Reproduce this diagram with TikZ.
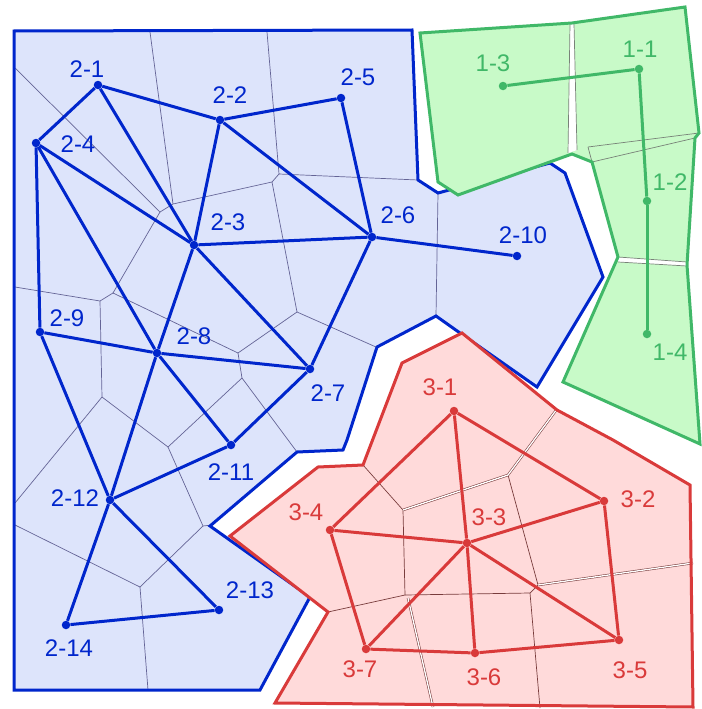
\documentclass[tikz,border=0pt]{standalone}
\usepackage{fontspec}
\setmainfont{Liberation Sans}
\definecolor{bstroke}{RGB}{0,38,204}
\definecolor{bfill}{RGB}{221,228,251}
\definecolor{bthin}{RGB}{100,100,150}
\definecolor{gstroke}{RGB}{64,184,104}
\definecolor{gfill}{RGB}{200,250,200}
\definecolor{gthin}{RGB}{120,130,120}
\definecolor{rstroke}{RGB}{217,58,58}
\definecolor{rfill}{RGB}{255,218,218}
\definecolor{rthin}{RGB}{120,60,60}
\tikzset{
  outl/.style={line width=3pt, line join=miter},
  edgel/.style={line width=3pt},
  thinl/.style={line width=0.7pt},
  dotnode/.style={circle, fill, inner sep=0pt, minimum size=8.5pt},
  lbl/.style={font=\fontsize{24}{24}\selectfont, inner sep=0pt},
  bdot/.style={dotnode, fill=bstroke},
  gdot/.style={dotnode, fill=gstroke},
  rdot/.style={dotnode, fill=rstroke},
  blbl/.style={lbl, text=bstroke},
  glbl/.style={lbl, text=gstroke},
  rlbl/.style={lbl, text=rstroke},
}
\begin{document}
\begin{tikzpicture}[x=1pt, y=-1pt]
\useasboundingbox[fill=white] (0,0) rectangle (701,709);

% ---------- blue cluster ----------
\fill[bfill] (14,31) -- (412,30) -- (418,180) -- (438,193) -- (550,163) -- (565,173) -- (603,277) -- (537,387) -- (460,333) -- (436,316) -- (377,347) -- (347,440) -- (343,450) -- (297,452) -- (210,526) -- (310,597) -- (260,690) -- (14,690) -- cycle;
\begin{scope}[thinl, bthin]
\draw (15,68) -- (160,212);
\draw (150,32) -- (173,204);
\draw (160,212) -- (173,204) -- (272,182);
\draw (267,32) -- (279,174) -- (418,180);
\draw (272,182) -- (279,174);
\draw (272,182) -- (297,312);
\draw (160,212) -- (113,293);
\draw (15,287) -- (100,301) -- (113,293) -- (238,353);
\draw (100,301) -- (102,397) -- (15,503);
\draw (102,397) -- (168,447) -- (242,378);
\draw (168,447) -- (203,526) -- (212,525);
\draw (203,526) -- (140,587);
\draw (15,525) -- (140,587) -- (148,690);
\draw (297,312) -- (376,347);
\draw (297,312) -- (238,353) -- (242,378) -- (297,452);
\draw (438,193) -- (436,316);
\end{scope}
\draw[outl, bstroke] (14,31) -- (412,30) -- (418,180) -- (438,193) -- (550,163) -- (565,173) -- (603,277) -- (537,387) -- (460,333) -- (436,316) -- (377,347) -- (347,440) -- (343,450) -- (297,452) -- (210,526) -- (310,597) -- (260,690) -- (14,690) -- cycle;

% ---------- green cluster ----------
\fill[gfill] (420,33) -- (572,23) -- (685,7) -- (699,133) -- (695,138) -- (687,265) -- (700,444) -- (563,382) -- (618,257) -- (592,162) -- (572,154) -- (458,195) -- (438,182) -- cycle;
\fill[white] (570,24) -- (574,24) -- (577,150) -- (568,153) -- cycle;
\fill[white] (618,257) -- (687,262) -- (687,266) -- (618,262) -- cycle;
\begin{scope}[thinl, gthin]
\draw (570,24) -- (568,153);
\draw (574,24) -- (577,150);
\draw (588,147) -- (699,133);
\draw (592,162) -- (695,138);
\draw (588,147) -- (592,162);
\draw (618,257) -- (687,262);
\draw (618,262) -- (687,266);
\end{scope}
\draw[outl, gstroke] (420,33) -- (572,23) -- (685,7) -- (699,133) -- (695,138) -- (687,265) -- (700,444) -- (563,382) -- (618,257) -- (592,162) -- (572,154) -- (458,195) -- (438,182) -- cycle;

% ---------- red cluster ----------
\fill[rfill] (230,536) -- (318,467) -- (363,465) -- (402,363) -- (462,333) -- (557,410) -- (613,440) -- (690,485) -- (693,707) -- (275,703) -- (328,612) -- cycle;
\begin{scope}[thinl, rthin]
\draw (363,465) -- (403,510) -- (405,595) -- (328,612);
\draw (405,595) -- (530,593) -- (538,585) -- (508,475);
\draw (530,593) -- (540,708);
\end{scope}
\begin{scope}[line width=2.4pt, rthin]
\draw (403,510) -- (508,475) -- (557,409);
\draw (538,585) -- (693,563);
\draw (408,598) -- (433,707);
\end{scope}
\begin{scope}[line width=1.3pt, white]
\draw (403,510) -- (508,475) -- (557,409);
\draw (538,585) -- (693,563);
\draw (408,598) -- (433,707);
\end{scope}
\draw[outl, rstroke] (230,536) -- (318,467) -- (363,465) -- (402,363) -- (462,333) -- (557,410) -- (613,440) -- (690,485) -- (693,707) -- (275,703) -- (328,612) -- cycle;

% ---------- blue graph ----------
\node[bdot] (b1) at (98,85) {};
\node[bdot] (b2) at (220,120) {};
\node[bdot] (b3) at (194,245) {};
\node[bdot] (b4) at (36,143) {};
\node[bdot] (b5) at (341,98) {};
\node[bdot] (b6) at (372,237) {};
\node[bdot] (b7) at (310,369) {};
\node[bdot] (b8) at (157,353) {};
\node[bdot] (b9) at (40,332) {};
\node[bdot] (b10) at (517,256) {};
\node[bdot] (b11) at (231,445) {};
\node[bdot] (b12) at (110,500) {};
\node[bdot] (b13) at (219,610) {};
\node[bdot] (b14) at (66,625) {};
\begin{scope}[edgel, bstroke]
\draw (b1) -- (b2);
\draw (b1) -- (b4);
\draw (b1) -- (b3);
\draw (b2) -- (b5);
\draw (b2) -- (b3);
\draw (b2) -- (b6);
\draw (b5) -- (b6);
\draw (b4) -- (b3);
\draw (b4) -- (b9);
\draw (b4) -- (b8);
\draw (b3) -- (b6);
\draw (b3) -- (b8);
\draw (b3) -- (b7);
\draw (b6) -- (b7);
\draw (b6) -- (b10);
\draw (b9) -- (b8);
\draw (b8) -- (b7);
\draw (b9) -- (b12);
\draw (b8) -- (b11);
\draw (b8) -- (b12);
\draw (b7) -- (b11);
\draw (b11) -- (b12);
\draw (b12) -- (b13);
\draw (b12) -- (b14);
\draw (b13) -- (b14);
\end{scope}

% ---------- green graph ----------
\node[gdot] (g1) at (639,69) {};
\node[gdot] (g2) at (647,201) {};
\node[gdot] (g3) at (503,86) {};
\node[gdot] (g4) at (647,334) {};
\begin{scope}[edgel, gstroke]
\draw (g3) -- (g1);
\draw (g1) -- (g2);
\draw (g2) -- (g4);
\end{scope}

% ---------- red graph ----------
\node[rdot] (r1) at (454,411) {};
\node[rdot] (r2) at (604,501) {};
\node[rdot] (r3) at (467,543) {};
\node[rdot] (r4) at (330,530) {};
\node[rdot] (r5) at (619,640) {};
\node[rdot] (r6) at (475,653) {};
\node[rdot] (r7) at (366,649) {};
\begin{scope}[edgel, rstroke]
\draw (r1) -- (r2);
\draw (r1) -- (r3);
\draw (r1) -- (r4);
\draw (r2) -- (r3);
\draw (r2) -- (r5);
\draw (r3) -- (r4);
\draw (r3) -- (r5);
\draw (r3) -- (r6);
\draw (r3) -- (r7);
\draw (r4) -- (r7);
\draw (r7) -- (r6);
\draw (r6) -- (r5);
\end{scope}

% ---------- labels ----------
\node[blbl] (lb1) at (87,69) {2-1};
\node[blbl] (lb2) at (230,95) {2-2};
\node[blbl] (lb3) at (228,222) {2-3};
\node[blbl] (lb4) at (78,144) {2-4};
\node[blbl] (lb5) at (358,77) {2-5};
\node[blbl] (lb6) at (398,215) {2-6};
\node[blbl] (lb7) at (328,393) {2-7};
\node[blbl] (lb8) at (194,336) {2-8};
\node[blbl] (lb9) at (67,318) {2-9};
\node[blbl] (lb10) at (523,235) {2-10};
\node[blbl] (lb11) at (231,472) {2-11};
\node[blbl] (lb12) at (75,498) {2-12};
\node[blbl] (lb13) at (250,590) {2-13};
\node[blbl] (lb14) at (69,648) {2-14};
\node[glbl] (lg1) at (640,49) {1-1};
\node[glbl] (lg2) at (670,182) {1-2};
\node[glbl] (lg3) at (493,63) {1-3};
\node[glbl] (lg4) at (670,352) {1-4};
\node[rlbl] (lr1) at (440,387) {3-1};
\node[rlbl] (lr2) at (638,499) {3-2};
\node[rlbl] (lr3) at (489,517) {3-3};
\node[rlbl] (lr4) at (306,512) {3-4};
\node[rlbl] (lr5) at (630,670) {3-5};
\node[rlbl] (lr6) at (484,677) {3-6};
\node[rlbl] (lr7) at (360,669) {3-7};
\end{tikzpicture}
\end{document}
